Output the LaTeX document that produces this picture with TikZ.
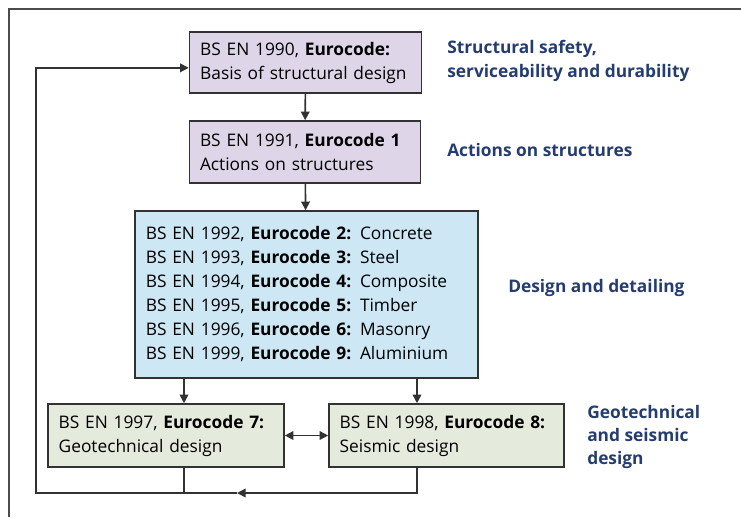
\documentclass[tikz,border=0pt]{standalone}
\usepackage{fontspec}
\setmainfont{Open Sans}
\usetikzlibrary{arrows.meta}
\definecolor{boxline}{RGB}{50,50,50}
\definecolor{lilac}{RGB}{222,214,232}
\definecolor{skyfill}{RGB}{205,231,245}
\definecolor{sagefill}{RGB}{228,235,221}
\definecolor{navytext}{RGB}{36,60,112}
\tikzset{
  codebox/.style={draw=boxline, line width=1.2pt, inner xsep=8pt, inner ysep=0pt, align=left,
    font=\fontsize{13}{18}\selectfont},
  sidenote/.style={anchor=west, inner sep=0pt, align=left, text=navytext,
    font=\bfseries\fontsize{13}{17.5}\selectfont},
  flow/.style={draw=boxline, line width=1.2pt, -{Triangle[length=6.5pt,width=6.5pt]}},
  plain/.style={draw=boxline, line width=1.2pt}
}
\begin{document}
\begin{tikzpicture}[x=0.75pt,y=0.75pt,yscale=-1,xscale=1]
\useasboundingbox (0,0) rectangle (741,517);

% Frame
\draw [color=black!70, line width=1.4pt] (9,517) -- (9,9) -- (741,9) ;

% Boxes
\node [codebox, fill=lilac, text width=158pt, minimum height=45.75pt] (ec0) at (305.5,62.5)
  {BS EN 1990, \textbf{Eurocode:}\\Basis of structural design};
\node [codebox, fill=lilac, text width=157.5pt, minimum height=46.5pt] (ec1) at (305,152)
  {BS EN 1991, \textbf{Eurocode 1}\\Actions on structures};
\node [codebox, fill=skyfill, text width=241pt, minimum height=125.25pt] (mat) at (306.5,294.5)
  {BS EN 1992, \textbf{Eurocode 2:} Concrete\\
   BS EN 1993, \textbf{Eurocode 3:} Steel\\
   BS EN 1994, \textbf{Eurocode 4:} Composite\\
   BS EN 1995, \textbf{Eurocode 5:} Timber\\
   BS EN 1996, \textbf{Eurocode 6:} Masonry\\
   BS EN 1999, \textbf{Eurocode 9:} Aluminium};
\node [codebox, fill=sagefill, text width=161pt, minimum height=47.25pt] (ec7) at (166,435.5)
  {BS EN 1997, \textbf{Eurocode 7:}\\Geotechnical design};
\node [codebox, fill=sagefill, text width=160.25pt, minimum height=47.25pt] (ec8) at (446.5,435.5)
  {BS EN 1998, \textbf{Eurocode 8:}\\Seismic design};

% Side notes
\node [sidenote] (n0) at (447,61) {Structural safety,\\serviceability and durability};
\node [sidenote] (n1) at (447,150) {Actions on structures};
\node [sidenote] (n2) at (508,288) {Design and detailing};
\node [sidenote] (n3) at (587,437) {Geotechnical\\and seismic\\design};

% Arrows
\coordinate (x7) at (184,0);
\coordinate (x8) at (417,0);
\coordinate (loopmid) at (237,493);
\coordinate (loopleft) at (36,493);
\draw [flow] (ec0) -- (ec1);
\draw [flow] (ec1) -- (mat);
\draw [flow] (x7 |- mat.south) -- (x7 |- ec7.north);
\draw [flow] (x8 |- mat.south) -- (x8 |- ec8.north);
\draw [flow, {Triangle[length=6.5pt,width=6.5pt]}-{Triangle[length=6.5pt,width=6.5pt]}] (ec7) -- (ec8);
\draw [plain] (x7 |- ec7.south) -- (x7 |- loopmid);
\draw [flow] (x8 |- ec8.south) |- (loopmid);
\draw [flow] (loopmid) -- (loopleft) |- ([yshift=4pt]ec0.west);

\end{tikzpicture}
\end{document}
